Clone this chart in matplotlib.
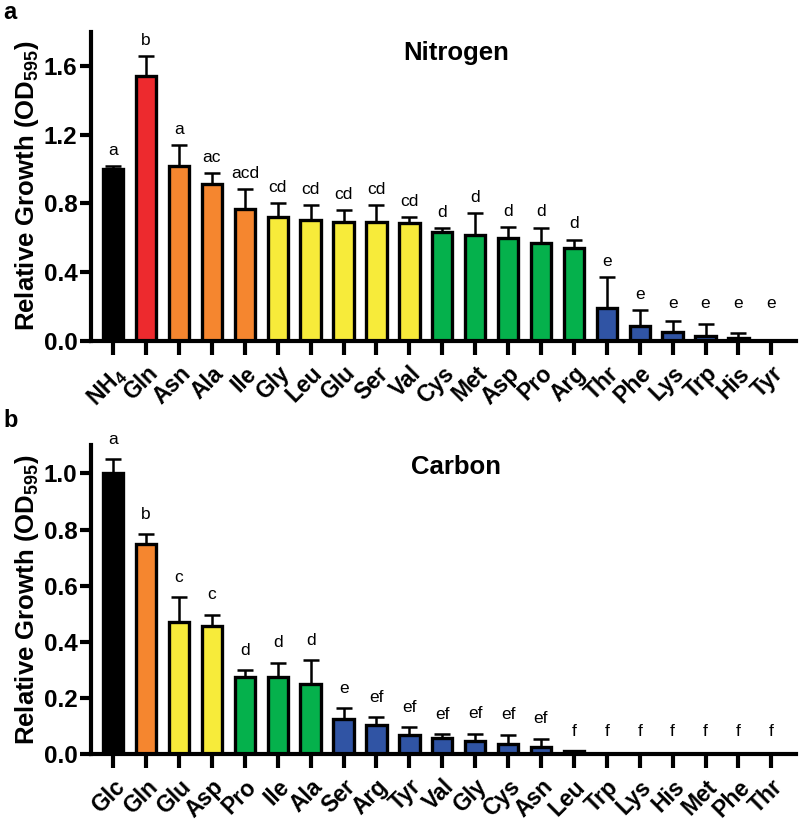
import matplotlib
matplotlib.use("Agg")
import matplotlib.pyplot as plt
import numpy as np

# Nitrogen source panel
n_labels = ['NH$_4$', 'Gln', 'Asn', 'Ala', 'Ile', 'Gly', 'Leu', 'Glu', 'Ser', 'Val', 'Cys',
            'Met', 'Asp', 'Pro', 'Arg', 'Thr', 'Phe', 'Lys', 'Trp', 'His', 'Tyr']
n_mean = [1.00, 1.54, 1.02, 0.915, 0.77, 0.72, 0.705, 0.695, 0.695, 0.685, 0.635,
          0.615, 0.60, 0.57, 0.54, 0.19, 0.085, 0.05, 0.03, 0.02, 0.0]
n_err = [0.02, 0.12, 0.12, 0.06, 0.115, 0.085, 0.085, 0.065, 0.095, 0.035, 0.02,
         0.13, 0.065, 0.09, 0.05, 0.18, 0.095, 0.065, 0.07, 0.025, 0.0]
n_letters = ['a', 'b', 'a', 'ac', 'acd', 'cd', 'cd', 'cd', 'cd', 'cd', 'd',
             'd', 'd', 'd', 'd', 'e', 'e', 'e', 'e', 'e', 'e']
n_tier = [0, 1, 2, 2, 2, 3, 3, 3, 3, 3, 4, 4, 4, 4, 4, 5, 5, 5, 5, 5, 5]

# Carbon source panel
c_labels = ['Glc', 'Gln', 'Glu', 'Asp', 'Pro', 'Ile', 'Ala', 'Ser', 'Arg', 'Tyr', 'Val',
            'Gly', 'Cys', 'Asn', 'Leu', 'Trp', 'Lys', 'His', 'Met', 'Phe', 'Thr']
c_mean = [1.00, 0.747, 0.47, 0.456, 0.274, 0.274, 0.249, 0.125, 0.104, 0.068, 0.059,
          0.046, 0.036, 0.025, 0.01, 0.0, 0.0, 0.0, 0.0, 0.0, 0.0]
c_err = [0.05, 0.036, 0.09, 0.041, 0.026, 0.052, 0.087, 0.04, 0.029, 0.029, 0.013,
         0.027, 0.034, 0.031, 0.0, 0.0, 0.0, 0.0, 0.0, 0.0, 0.0]
c_letters = ['a', 'b', 'c', 'c', 'd', 'd', 'd', 'e', 'ef', 'ef', 'ef',
             'ef', 'ef', 'ef', 'f', 'f', 'f', 'f', 'f', 'f', 'f']
c_tier = [0, 2, 3, 3, 4, 4, 4, 5, 5, 5, 5, 5, 5, 5, 5, 5, 5, 5, 5, 5, 5]

palette = ['#000000', '#ED2A2E', '#F5862F', '#F7EB3A', '#05B14C', '#3054A4']

plt.rcParams['font.family'] = ['Liberation Sans', 'DejaVu Sans']
plt.rcParams['mathtext.fontset'] = 'custom'
plt.rcParams['mathtext.rm'] = 'Liberation Sans'
plt.rcParams['mathtext.default'] = 'regular'


def draw_panel(ax, labels, mean, err, letters, tier, ymax, step, title, pad, floor):
    x = np.arange(len(labels))
    mean = np.array(mean)
    err = np.array(err)
    colors = [palette[t] for t in tier]
    ax.errorbar(x, mean, yerr=[np.zeros_like(err), err], fmt='none', ecolor='black',
                elinewidth=1.8, capsize=6, capthick=1.8, zorder=1)
    ax.bar(x, mean, width=0.62, color=colors, edgecolor='black', linewidth=2.4, zorder=2)
    tops = np.maximum(mean + err, floor)
    for xi, yi, lt in zip(x, tops, letters):
        ax.annotate(lt, (xi, yi), xytext=(0, pad), textcoords='offset points',
                    ha='center', va='baseline', fontsize=12.5, annotation_clip=False)
    ax.set_xlim(-0.67, len(labels) - 0.25)
    ax.set_ylim(0, ymax)
    ax.set_yticks(np.arange(0, ymax + 1e-9, step))
    ax.yaxis.set_major_formatter(matplotlib.ticker.FormatStrFormatter('%.1f'))
    ax.set_xticks(x)
    ax.set_xticklabels(labels, rotation=45, ha='right', va='top', rotation_mode='anchor',
                       fontsize=16.5, fontweight='bold')
    for lab in ax.get_yticklabels():
        lab.set_fontweight('bold')
        lab.set_fontsize(17.5)
    ax.tick_params(axis='x', length=10, width=3, pad=5)
    ax.tick_params(axis='y', length=8, width=3, pad=2)
    for s in ['top', 'right']:
        ax.spines[s].set_visible(False)
    for s in ['left', 'bottom']:
        ax.spines[s].set_linewidth(3)
    ax.set_ylabel('Relative Growth (OD$_{595}$)', fontsize=18.5, fontweight='bold', labelpad=2)
    ax.text(0.518, 0.93, title, transform=ax.transAxes, ha='center', va='center',
            fontsize=18.5, fontweight='bold')


fig = plt.figure(figsize=(8, 8.23), dpi=100)
ax_a = fig.add_axes([0.114, 0.5857, 0.881, 0.3759])
ax_b = fig.add_axes([0.114, 0.0835, 0.881, 0.3755])

draw_panel(ax_a, n_labels, n_mean, n_err, n_letters, n_tier, 1.8, 0.4, 'Nitrogen', 8, 0.13)
draw_panel(ax_b, c_labels, c_mean, c_err, c_letters, c_tier, 1.1, 0.2, 'Carbon', 11, 0.01)

fig.text(0.004, 1 - 19 / 823, 'a', fontsize=17, fontweight='bold', va='baseline')
fig.text(0.004, 1 - 427 / 823, 'b', fontsize=17, fontweight='bold', va='baseline')

fig.savefig('out.png', dpi=100)
